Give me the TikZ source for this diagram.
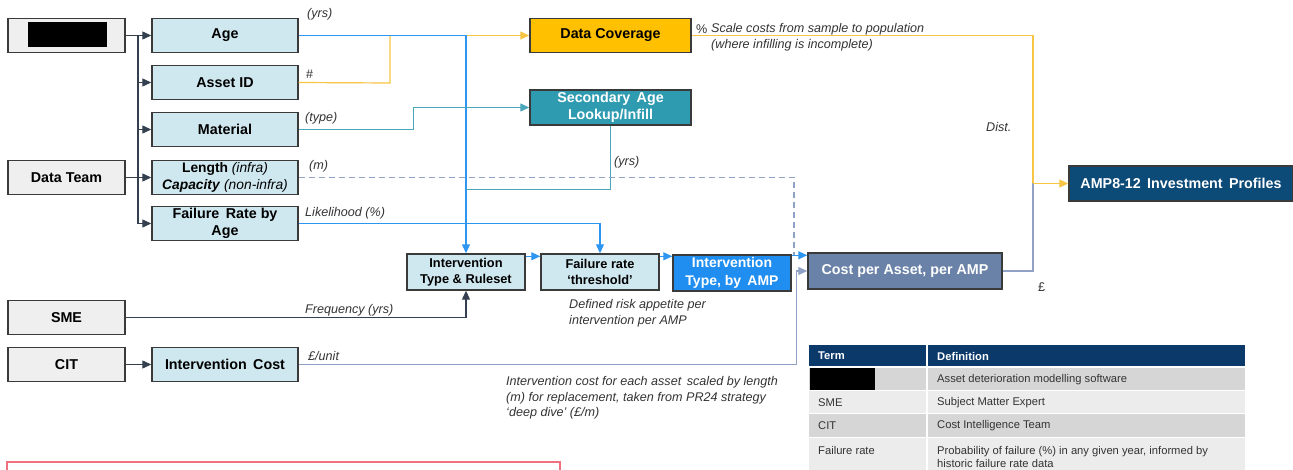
\documentclass[tikz,border=0pt]{standalone}
\usepackage{fontspec}
\setmainfont{Liberation Sans}
\usetikzlibrary{arrows.meta,calc}

\definecolor{boxblue}{HTML}{CFE8EF}
\definecolor{boxgray}{HTML}{EFEFEF}
\definecolor{edge}{HTML}{3A3A3A}
\definecolor{gold}{HTML}{FFC000}
\definecolor{goldln}{HTML}{F7C443}
\definecolor{teal}{HTML}{2F9BB0}
\definecolor{tealln}{HTML}{4AA6BA}
\definecolor{brightblue}{HTML}{1F8EF0}
\definecolor{blueln}{HTML}{2E96F0}
\definecolor{slate}{HTML}{6A82A8}
\definecolor{slateln}{HTML}{8FA2C6}
\definecolor{navy}{HTML}{0C4A77}
\definecolor{hdr}{HTML}{0B3A6A}
\definecolor{darkln}{HTML}{34404F}
\definecolor{rowdark}{HTML}{D6D6D6}
\definecolor{rowlight}{HTML}{ECECEC}
\definecolor{txtgray}{HTML}{333333}
\definecolor{alert}{HTML}{F07080}

\tikzset{
  box/.style={draw=edge, line width=1.4pt, inner sep=0pt, align=center,
    font=\fontsize{14.3}{17.5}\selectfont\bfseries},
  srcbox/.style={box, fill=boxgray, minimum width=117pt, minimum height=34pt},
  inbox/.style={box, fill=boxblue, minimum width=146pt, minimum height=34pt},
  midbox/.style={box, fill=boxblue, minimum width=118pt, minimum height=36pt,
    font=\fontsize{12.8}{15.5}\selectfont\bfseries},
  lbl/.style={font=\fontsize{12.6}{15.5}\selectfont\itshape, text=txtgray, inner sep=0pt, anchor=west, align=left},
  tip/.style={-{Triangle[length=9pt,width=8pt]}},
  wire/.style={line width=1.2pt},
  dkwire/.style={wire, draw=darkln},
  bluewire/.style={wire, draw=blueln},
  goldwire/.style={wire, draw=goldln},
  tealwire/.style={wire, draw=tealln},
  slatewire/.style={wire, draw=slateln},
  dashwire/.style={wire, draw=slateln, dash pattern=on 6pt off 4pt},
  tcell/.style={font=\fontsize{11.2}{13}\selectfont, text=txtgray, inner sep=0pt, anchor=west, align=left},
}

\begin{document}
\begin{tikzpicture}[x=1pt,y=-1pt]
\useasboundingbox (0,0) rectangle (1293,470);

% ---- source boxes ----
\node[srcbox] (blk) at (66.5,35.5) {};
\node[fill=black, minimum width=79pt, minimum height=25pt, inner sep=0pt] (blkmask) at (67.5,34.5) {};
\node[srcbox] (dt)  at (66.5,177.5) {Data Team};
\node[srcbox] (sme) at (66.5,317.5) {SME};
\node[srcbox] (cit) at (66.5,364.5) {CIT};

% ---- input attributes ----
\node[inbox] (age)   at (225,35.5)  {Age};
\node[inbox] (asset) at (225,82.5)  {Asset ID};
\node[inbox] (mat)   at (225,129.5) {Material};
\node[inbox, font=\fontsize{13.8}{17.5}\selectfont\bfseries] (len) at (225,177.5) {Length \textmd{\itshape(infra)}\\\textit{Capacity} \textmd{\itshape(non-infra)}};
\node[inbox] (fra)   at (225,223.5) {Failure\, Rate by\\Age};
\node[inbox] (ic)    at (225,364.5) {Intervention\, Cost};

% ---- processing boxes ----
\node[box, fill=gold, minimum width=161pt, minimum height=34pt] (dc) at (610.5,35.5) {Data Coverage};
\node[box, fill=teal, text=white, minimum width=161pt, minimum height=35pt] (sec) at (610.5,107.5) {Secondary\, Age\\Lookup/Infill};
\node[box, fill=navy, text=white, minimum width=224pt, minimum height=35pt] (amp8) at (1181,183.5) {AMP8-12\, Investment\, Profiles};
\node[midbox] (int) at (466,272) {Intervention\\Type \& Ruleset};
\node[midbox] (fr)  at (600,272) {Failure rate\\‘threshold’};
\node[midbox, fill=brightblue, text=white, font=\fontsize{14}{17.5}\selectfont\bfseries] (amp) at (732,273) {Intervention\\Type, by\, AMP};
\node[box, fill=slate, text=white, minimum width=194pt, minimum height=36pt] (cost) at (905,271) {Cost per Asset, per AMP};

% ---- source bus ----
\coordinate (bt) at (138,35.5);
\coordinate (bb) at (138,224);
\draw[dkwire] (blk.east) -- (bt) -- (bb);
\draw[dkwire] (dt.east) -- (bt |- dt.east);
\foreach \n in {age,asset,mat,len,fra}
  \draw[dkwire, tip] (bt |- \n.west) -- (\n.west);
\draw[dkwire, tip] (cit.east) -- (ic.west);

% ---- attribute routes ----
\coordinate (yj) at (390,83);
\draw[goldwire] (asset.east) -- (yj) -- (yj |- dc.west);
\draw[goldwire, tip] (yj |- dc.west) -- (dc.west);
\draw[bluewire, tip] (age.east) -| (int.north);
\draw[tealwire, tip] (mat.east) -- ++(115,0) |- (sec.west);
\draw[tealwire] (sec.south) |- ($(int.north)+(0,-64)$);
\draw[bluewire, tip] (fra.east) -| (fr.north);
\coordinate (dj) at (794,256);
\draw[dashwire] (len.east) -| (dj);
\draw[dkwire, tip] (sme.east) -| (int.south);

% ---- chain along the bottom ----
\coordinate (c1) at ($(int.north east)+(0,3)$);
\draw[bluewire, tip] (c1) -- (c1 -| fr.west);
\coordinate (c2) at ($(fr.north east)+(0,3)$);
\draw[bluewire, tip] (c2) -- (c2 -| amp.west);
\coordinate (c3) at ($(amp.north east)+(0,1)$);
\draw[bluewire, tip] (c3) -- (c3 -| cost.west);
\draw[slatewire, tip] (ic.east) -| ($(cost.west)+(-11,0)$) -- (cost.west);

% ---- outputs ----
\coordinate (oj) at (1033,183.5);
\draw[slatewire] (cost.east) -| (oj);
\draw[goldwire] (dc.east) -| (oj);
\draw[goldwire, tip] (oj) -- (amp8.west);

% ---- connector labels ----
\node[lbl] (l1) at (307,14) {(yrs)};
\node[lbl] (l2) at (306,74) {\upshape\#};
\node[lbl] (l3) at (305,118) {(type)};
\node[lbl] (l4) at (309,166) {(m)};
\node[lbl] (l5) at (305,213) {Likelihood (\%)};
\node[lbl] (l6) at (614,162) {(yrs)};
\node[lbl] (l7) at (696,29) {\upshape\%};
\node[lbl] (l8) at (711,37) {Scale costs from sample to population\\(where infilling is incomplete)};
\node[lbl] (l9) at (986,127) {Dist.};
\node[lbl] (l10) at (1038,287) {\upshape£};
\node[lbl] (l11) at (305,310) {Frequency (yrs)};
\node[lbl] (l12) at (308,356) {£/unit};
\node[lbl] (l13) at (569,313) {Defined risk appetite per\\intervention per AMP};
\node[lbl] (l14) at (506,398) {Intervention cost for each asset\, scaled by length\\(m) for replacement, taken from PR24 strategy\\‘deep dive’ (£/m)};

% ---- glossary table ----
\fill[hdr] (809,345) rectangle (1245,366);
\fill[rowdark] (809,368) rectangle (1245,390);
\fill[rowlight] (809,391) rectangle (1245,413);
\fill[rowdark] (809,414) rectangle (1245,437);
\fill[rowlight] (809,438) rectangle (1245,472);
\draw[white, line width=1.5pt] (927,345) -- (927,472);
\draw[white, line width=1pt] (809,366.8) -- (1245,366.8);
\fill[black] (810,368) rectangle (875,390);
\node[tcell, text=white, font=\fontsize{11.2}{13}\selectfont\bfseries] (th1) at (818,356) {Term};
\node[tcell, text=white, font=\fontsize{11.2}{13}\selectfont\bfseries] (th2) at (937,356) {Definition};
\node[tcell] (d1) at (937,379.5) {Asset deterioration modelling software};
\node[tcell] (t2) at (818,402.5) {SME};
\node[tcell] (d2) at (937,402.5) {Subject Matter Expert};
\node[tcell] (t3) at (818,425.5) {CIT};
\node[tcell] (d3) at (937,425.5) {Cost Intelligence Team};
\node[tcell] (t4) at (818,450) {Failure rate};
\node[tcell] (d4) at (937,457) {Probability of failure (\%) in any given year, informed by\\historic failure rate data};

% ---- note frame at the foot ----
\draw[alert, line width=1.2pt] (7,475) -- (7,462) -- (560,462) -- (560,475);
\end{tikzpicture}
\end{document}
